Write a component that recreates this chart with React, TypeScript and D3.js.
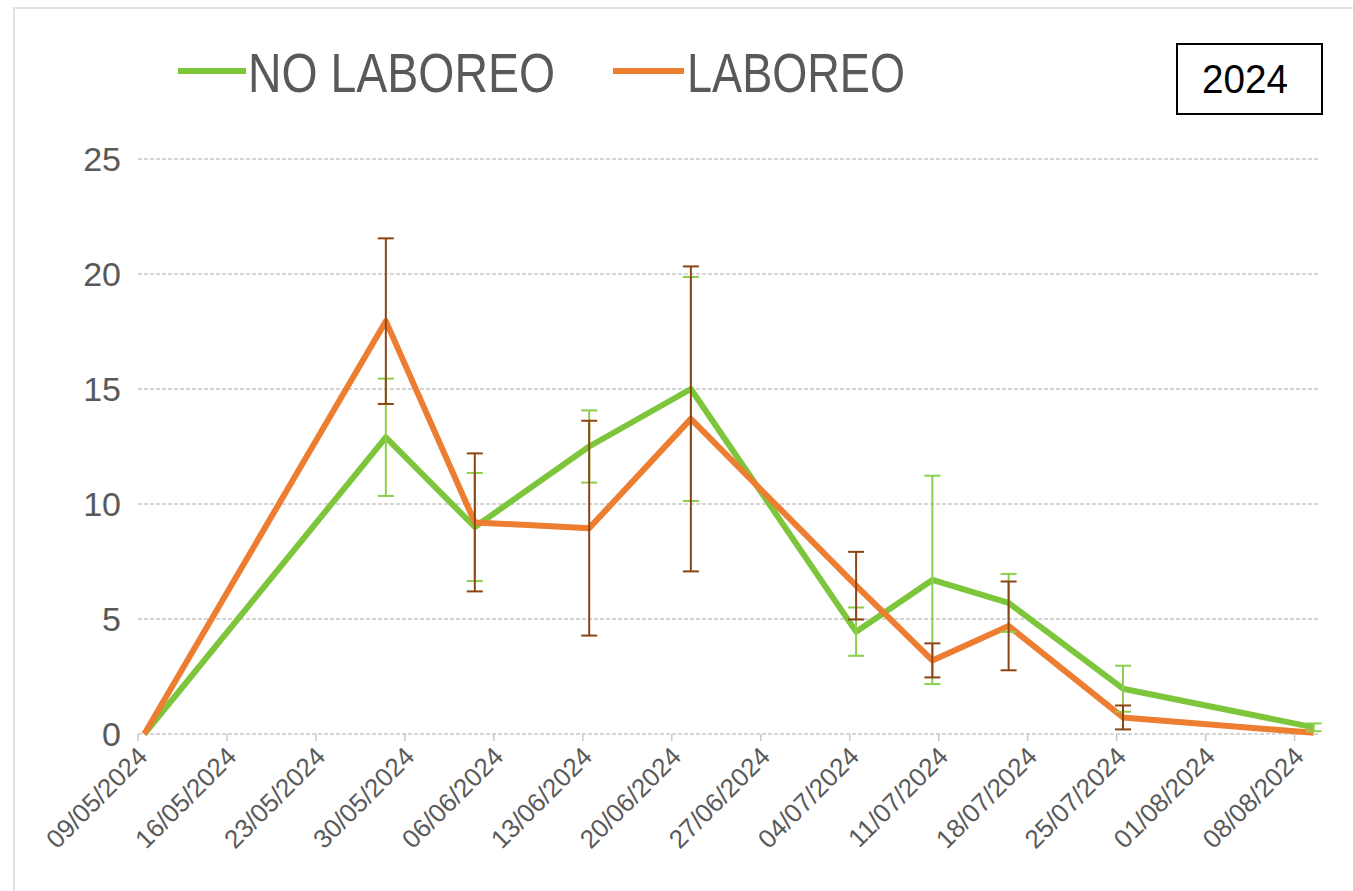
import React from "react";
import * as d3 from "d3";

const tickDates = ["09/05/2024","16/05/2024","23/05/2024","30/05/2024","06/06/2024","13/06/2024","20/06/2024","27/06/2024","04/07/2024","11/07/2024","18/07/2024","25/07/2024","01/08/2024","08/08/2024"];
const sampleDates = ["09/05/2024","28/05/2024","04/06/2024","13/06/2024","21/06/2024","04/07/2024","10/07/2024","16/07/2024","25/07/2024","09/08/2024"];
const noLaboreo = [0, 12.9, 9.0, 12.5, 15.0, 4.45, 6.7, 5.7, 1.97, 0.29];
const noLaboreoErr = [0, 2.55, 2.35, 1.57, 4.87, 1.05, 4.53, 1.26, 1.0, 0.17];
const laboreo = [0, 17.95, 9.2, 8.95, 13.7, 6.45, 3.2, 4.7, 0.72, 0.05];
const laboreoErr = [0, 3.6, 3.0, 4.67, 6.63, 1.47, 0.74, 1.93, 0.52, 0];
const yTicks = [0, 5, 10, 15, 20, 25];
const seriesNames = ["NO LABOREO", "LABOREO"];
const yearLabel = "2024";

const parse = d3.utcParse("%d/%m/%Y");
const HALF_DAY = 12 * 3600 * 1000;

export default function App() {
  const left = 138, right = 1320, top = 159, bottom = 734;
  const x = d3.scaleUtc()
    .domain([parse("09/05/2024")!, parse("10/08/2024")!])
    .range([left, right]);
  const y = d3.scaleLinear().domain([0, 25]).range([bottom, top]);
  const px = (s: string) => x(new Date(parse(s)!.getTime() + HALF_DAY));

  const line = d3.line<[number, number]>().x(d => d[0]).y(d => d[1]);
  const ptsG = sampleDates.map((s, i) => [px(s), y(noLaboreo[i])] as [number, number]);
  const ptsO = sampleDates.map((s, i) => [px(s), y(laboreo[i])] as [number, number]);

  const green = "#7DC63C";
  const greenErr = "#8CCF4C";
  const orange = "#ED7D31";
  const brown = "#8B4513";
  const textGray = "#595959";
  const font = "'Liberation Sans Narrow', 'Liberation Sans', Arial, sans-serif";

  const errBars = (vals: number[], errs: number[], color: string, key: string) =>
    sampleDates.map((s, i) => {
      if (errs[i] <= 0) return null;
      const cx = px(s);
      const y1 = y(vals[i] + errs[i]);
      const y2 = y(Math.max(0, vals[i] - errs[i]));
      return (
        <g key={key + i} stroke={color} strokeWidth={2}>
          <line x1={cx} x2={cx} y1={y1} y2={y2} />
          <line x1={cx - 8} x2={cx + 8} y1={y1} y2={y1} />
          <line x1={cx - 8} x2={cx + 8} y1={y2} y2={y2} />
        </g>
      );
    });

  return (
    <svg width={1353} height={891} style={{ position: "absolute", left: 0, top: 0, background: "#fff" }}>
      <rect x={0} y={0} width={1353} height={891} fill="#fff" />
      <rect x={14} y={8} width={1360} height={900} fill="none" stroke="#d9d9d9" strokeWidth={1.5} />
      {/* gridlines */}
      {yTicks.map(t => (
        <g key={"g" + t}>
          <line x1={left} x2={right} y1={y(t)} y2={y(t)} stroke="#c8c8c8" strokeWidth={1.5} strokeDasharray="4,2" />
          <text x={121} y={y(t)} dy="0.35em" textAnchor="end" fontFamily={font} fontSize={34} fill={textGray}>{t}</text>
        </g>
      ))}
      {/* x ticks and labels */}
      {tickDates.map(s => {
        const tx = x(parse(s)!);
        return (
          <g key={"t" + s}>
            <line x1={tx} x2={tx} y1={bottom} y2={bottom + 7} stroke="#c8c8c8" strokeWidth={1.5} />
            <text transform={`translate(${tx + 11},${bottom + 24}) rotate(-45)`} textAnchor="end"
              fontFamily={font} fontSize={26} fill={textGray}>{s}</text>
          </g>
        );
      })}
      {/* lines */}
      <path d={line(ptsG)!} fill="none" stroke={green} strokeWidth={6} strokeLinejoin="round" />
      <path d={line(ptsO)!} fill="none" stroke={orange} strokeWidth={6} strokeLinejoin="round" />
      {errBars(noLaboreo, noLaboreoErr, greenErr, "ge")}
      {errBars(laboreo, laboreoErr, brown, "oe")}
      {/* legend */}
      <line x1={178} x2={246} y1={71} y2={71} stroke={green} strokeWidth={6} />
      <text x={248} y={92} fontFamily={font} fontSize={56} fill={textGray} textLength={307} lengthAdjust="spacingAndGlyphs">{seriesNames[0]}</text>
      <line x1={613} x2={684} y1={71} y2={71} stroke={orange} strokeWidth={6} />
      <text x={687} y={92} fontFamily={font} fontSize={56} fill={textGray} textLength={218} lengthAdjust="spacingAndGlyphs">{seriesNames[1]}</text>
      {/* year box */}
      <rect x={1177} y={44} width={145} height={70} fill="#fff" stroke="#000" strokeWidth={2} />
      <text x={1245} y={93} textAnchor="middle" fontFamily={font} fontSize={40} fill="#000" textLength={86} lengthAdjust="spacingAndGlyphs">{yearLabel}</text>
    </svg>
  );
}
